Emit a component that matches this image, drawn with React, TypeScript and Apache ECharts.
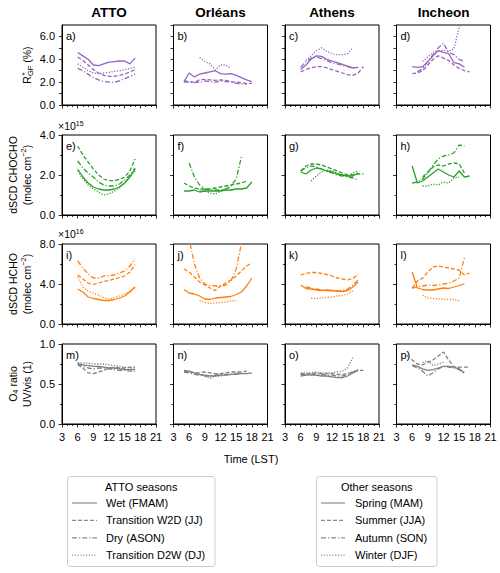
import { useEffect, useRef } from "react";
import * as echarts from "echarts";

const FONT = '"Liberation Sans", Arial, Helvetica, sans-serif';

const sites = ["ATTO", "Orléans", "Athens", "Incheon"];
const letters = ["a", "b", "c", "d", "e", "f", "g", "h", "i", "j", "k", "l", "m", "n", "o", "p"];
const rowColors = ["#9467bd", "#2ca02c", "#ff7f0e", "#7f7f7f"];
const yMax = [7, 4, 8, 1];
const yInterval = [1, 2, 4, 0.5];
const yMinorSplit = [0, 2, 2, 2];
const xTickLabels = [3, 6, 9, 12, 15, 18, 21];

const attoSeasons = ["Wet (FMAM)", "Transition W2D (JJ)", "Dry (ASON)", "Transition D2W (DJ)"];
const otherSeasons = ["Spring (MAM)", "Summer (JJA)", "Autumn (SON)", "Winter (DJF)"];

// ---- Row 1: R*GF (%) ; series order: wet/spring, W2D/summer, dry/autumn, D2W/winter
const rgfAttoStart = [6, 6, 6, 6];
const rgfAtto = [
  [4.6, 4.3, 4.0, 3.5, 3.45, 3.6, 3.75, 3.8, 3.85, 3.85, 3.6, 4.1],
  [4.2, 3.9, 3.5, 3.1, 2.8, 2.6, 2.5, 2.5, 2.6, 2.7, 2.9, 3.1],
  [3.2, 3.0, 2.7, 2.4, 2.2, 2.05, 2.0, 2.0, 2.1, 2.3, 2.5, 2.7],
  [3.6, 3.3, 3.0, 2.8, 2.75, 2.8, 2.85, 2.95, 3.0, 3.1, 3.2, 3.3],
];
const rgfOrleansStart = [5, 5, 5, 8];
const rgfOrleans = [
  [2.05, 2.8, 2.45, 2.7, 2.8, 2.9, 3.0, 2.75, 2.7, 2.75, 2.6, 2.4, 2.2, 2.05],
  [2.1, 2.05, 2.0, 2.2, 2.25, 2.2, 2.15, 2.2, 2.15, 2.05, 2.0, 1.95, 1.9, 1.9],
  [2.0, 2.0, 1.95, 2.0, 2.1, 2.05, 2.0, 2.1, 2.05, 2.0, 1.9, 1.85, 1.8],
  [4.15, 3.8, 3.6, 3.05, 3.5, 3.5, 3.2],
];
const rgfAthensStart = [6, 6, 6, 7];
const rgfAthens = [
  [3.1, 3.5, 4.0, 4.3, 4.25, 4.0, 3.85, 3.7, 3.55, 3.4, 3.25, 3.3],
  [2.9, 3.1, 3.25, 3.35, 3.35, 3.25, 3.1, 2.95, 2.8, 2.65, 2.6, 2.8, 3.35],
  [3.3, 3.8, 4.1, 4.2, 4.05, 3.9, 3.7, 3.6, 3.45, 3.35, 3.2, 3.3],
  [3.9, 4.3, 4.75, 5.0, 4.7, 4.5, 4.4, 4.4, 4.5, 5.0],
];
const rgfIncheonStart = [6, 6, 7, 8];
const rgfIncheon = [
  [3.35, 3.3, 3.35, 3.8, 4.3, 4.75, 4.6, 4.5, 3.7, 3.6, 3.3],
  [2.75, 2.8, 3.0, 3.5, 4.0, 4.3, 4.1, 3.9, 3.5, 3.2, 3.0, 2.9],
  [2.9, 3.2, 3.8, 4.4, 5.0, 5.4, 4.6, 4.4, 4.0, 3.8],
  [3.8, 4.2, 4.6, 4.7, 4.8, 4.7, 4.9, 6.8, 9.5],
];

// ---- Row 2: dSCD CHOCHO (x1e15)
const chAttoStart = [6, 6, 6, 6];
const chAtto = [
  [2.3, 1.9, 1.6, 1.4, 1.3, 1.25, 1.25, 1.3, 1.4, 1.6, 1.9, 2.3],
  [3.45, 3.0, 2.65, 2.3, 2.0, 1.8, 1.72, 1.72, 1.78, 1.9, 2.2, 2.8],
  [2.7, 2.35, 2.1, 1.9, 1.65, 1.5, 1.45, 1.45, 1.55, 1.75, 2.0, 2.35],
  [2.2, 1.8, 1.5, 1.3, 1.15, 1.0, 1.05, 1.2, 1.35, 1.6, 1.9, 2.2],
];
const chOrleansStart = [5, 5, 6, 8];
const chOrleans = [
  [1.2, 1.2, 1.25, 1.15, 1.2, 1.2, 1.2, 1.2, 1.25, 1.25, 1.3, 1.3, 1.35, 1.65],
  [1.6, 1.45, 1.35, 1.3, 1.3, 1.3, 1.35, 1.4, 1.45, 1.5, 1.55, 1.6, 1.7],
  [2.6, 1.9, 1.5, 1.3, 1.25, 1.25, 1.25, 1.3, 1.45, 1.8, 2.9],
  [1.25, 1.2, 1.1, 1.05, 1.2, 1.3, 1.4],
];
const chAthensStart = [6, 6, 6, 8];
const chAthens = [
  [2.15, 2.05, 2.25, 2.35, 2.3, 2.2, 2.15, 2.05, 2.0, 1.95, 1.95, 2.1],
  [2.2, 2.45, 2.55, 2.55, 2.5, 2.4, 2.3, 2.2, 2.1, 2.0, 2.0, 2.05, 2.05],
  [2.2, 2.35, 2.45, 2.4, 2.3, 2.2, 2.1, 2.0, 1.95, 1.9, 1.85, 1.75],
  [1.7, 1.95, 2.15, 2.25, 2.2, 2.1, 2.0, 1.95, 2.1, 2.2],
];
const chIncheonStart = [6, 8, 6, 8];
const chIncheon = [
  [2.45, 1.6, 1.7, 1.9, 2.1, 2.3, 2.15, 2.0, 1.9, 2.2, 1.9, 1.95],
  [1.9, 2.15, 2.4, 2.5, 2.45, 2.55, 2.6, 2.55, 2.1],
  [1.6, 1.65, 1.8, 2.1, 2.5, 2.8, 2.95, 3.0, 3.1, 3.5, 3.45],
  [1.45, 1.45, 1.55, 1.5, 1.65, 1.6, 1.85, 1.9],
];

// ---- Row 3: dSCD HCHO (x1e16)
const hcAttoStart = [6, 6, 6, 6];
const hcAtto = [
  [3.5, 3.2, 2.7, 2.55, 2.45, 2.35, 2.35, 2.45, 2.6, 2.8, 3.2, 3.7],
  [4.9, 4.5, 4.1, 3.95, 4.1, 4.25, 4.35, 4.5, 4.65, 4.8, 5.2, 5.95],
  [6.3, 5.6, 5.0, 4.6, 4.6, 4.8, 4.85, 4.9, 5.1, 5.3, 5.8, 6.5],
  [4.7, 3.7, 3.3, 3.1, 2.9, 2.65, 2.5, 2.65, 2.8, 3.0, 3.3, 3.7],
];
const hcOrleansStart = [5, 5, 5, 8];
const hcOrleans = [
  [3.45, 3.1, 3.0, 2.8, 2.5, 2.45, 2.6, 2.65, 2.7, 2.75, 2.95, 3.2, 3.8, 4.6],
  [5.5, 5.2, 4.7, 4.2, 3.9, 3.6, 3.35, 3.8, 4.1, 4.4, 4.8, 5.3, 5.8, 6.1],
  [11, 8.5, 6.0, 4.6, 4.0, 3.85, 3.8, 3.8, 3.9, 4.3, 5.5, 8.0, 11],
  [2.35, 2.15, 2.05, 2.1, 2.15, 2.2, 2.3, 2.35],
];
const hcAthensStart = [6, 6, 7, 8];
const hcAthens = [
  [3.9, 3.55, 3.5, 3.4, 3.35, 3.4, 3.35, 3.3, 3.25, 3.35, 3.7, 4.2],
  [4.9, 5.05, 5.15, 5.15, 5.05, 4.95, 4.8, 4.6, 4.5, 4.4, 4.55, 4.95],
  [3.7, 3.6, 3.5, 3.4, 3.35, 3.3, 3.3, 3.35, 3.5, 3.9, 4.4],
  [2.6, 2.55, 2.6, 2.65, 2.7, 2.8, 2.85, 3.0, 3.3],
];
const hcIncheonStart = [6, 6, 6, 8];
const hcIncheon = [
  [5.2, 3.6, 3.45, 3.4, 3.4, 3.5, 3.6, 3.55, 3.7, 3.85, 4.0],
  [3.6, 4.3, 4.6, 5.2, 5.7, 5.8, 5.7, 5.6, 5.5, 5.4, 4.9, 5.1],
  [3.6, 3.7, 3.8, 3.9, 3.85, 3.9, 4.0, 4.1, 4.3, 4.6, 6.6],
  [2.9, 2.6, 2.55, 2.5, 2.5, 2.45, 2.45, 2.3],
];

// ---- Row 4: O4 ratio UV/vis
const o4AttoStart = [6, 6, 6, 6];
const o4Atto = [
  [0.75, 0.74, 0.73, 0.72, 0.72, 0.71, 0.7, 0.7, 0.69, 0.68, 0.68, 0.68],
  [0.74, 0.7, 0.64, 0.63, 0.65, 0.67, 0.7, 0.71, 0.7, 0.7, 0.71, 0.71],
  [0.76, 0.72, 0.7, 0.69, 0.7, 0.7, 0.69, 0.68, 0.67, 0.67, 0.66, 0.66],
  [0.77, 0.76, 0.76, 0.75, 0.75, 0.75, 0.74, 0.73, 0.72, 0.71, 0.7, 0.7],
];
const o4OrleansStart = [5, 5, 5, 8];
const o4Orleans = [
  [0.67, 0.66, 0.64, 0.62, 0.61, 0.6, 0.6, 0.61, 0.61, 0.62, 0.62, 0.63, 0.63, 0.64],
  [0.66, 0.65, 0.64, 0.64, 0.65, 0.64, 0.63, 0.63, 0.64, 0.65, 0.65, 0.65, 0.66],
  [0.65, 0.64, 0.62, 0.61, 0.6, 0.6, 0.61, 0.62, 0.62, 0.62, 0.63, 0.64],
  [0.62, 0.6, 0.57, 0.6, 0.6, 0.61, 0.62],
];
const o4AthensStart = [6, 6, 6, 6];
const o4Athens = [
  [0.6, 0.61, 0.61, 0.61, 0.6, 0.6, 0.59, 0.58, 0.58, 0.6, 0.64, 0.67],
  [0.63, 0.63, 0.63, 0.64, 0.63, 0.63, 0.63, 0.62, 0.62, 0.63, 0.65, 0.67, 0.67],
  [0.62, 0.62, 0.62, 0.62, 0.62, 0.61, 0.61, 0.6, 0.6, 0.62, 0.65, 0.68],
  [0.64, 0.64, 0.64, 0.65, 0.64, 0.64, 0.64, 0.65, 0.66, 0.7, 0.83],
];
const o4IncheonStart = [6, 5, 6, 8];
const o4Incheon = [
  [0.74, 0.72, 0.69, 0.67, 0.68, 0.7, 0.72, 0.72, 0.71, 0.69, 0.64],
  [0.86, 0.8, 0.75, 0.74, 0.77, 0.8, 0.85, 0.9, 0.8, 0.71, 0.71, 0.71, 0.71],
  [0.73, 0.7, 0.66, 0.6, 0.64, 0.69, 0.72, 0.71, 0.7, 0.68, 0.63],
  [0.77, 0.79, 0.73, 0.75, 0.77],
];

const panelData = [
  [rgfAtto, rgfOrleans, rgfAthens, rgfIncheon],
  [chAtto, chOrleans, chAthens, chIncheon],
  [hcAtto, hcOrleans, hcAthens, hcIncheon],
  [o4Atto, o4Orleans, o4Athens, o4Incheon],
];
const panelStarts = [
  [rgfAttoStart, rgfOrleansStart, rgfAthensStart, rgfIncheonStart],
  [chAttoStart, chOrleansStart, chAthensStart, chIncheonStart],
  [hcAttoStart, hcOrleansStart, hcAthensStart, hcIncheonStart],
  [o4AttoStart, o4OrleansStart, o4AthensStart, o4IncheonStart],
];

// layout (pixels)
const gridLeft = [62, 173.5, 285, 396.5];
const gridTop = [25, 135, 244, 344];
const GW = 94;
const GH = 80;
const dashTypes: any[] = ["solid", [4, 2], [5, 2, 1.2, 2], [1.2, 1.6]];

function buildOption() {
  const grid: any[] = [];
  const xAxis: any[] = [];
  const yAxis: any[] = [];
  const series: any[] = [];
  const graphic: any[] = [];

  for (let r = 0; r < 4; r++) {
    for (let c = 0; c < 4; c++) {
      const gi = r * 4 + c;
      grid.push({
        left: gridLeft[c],
        top: gridTop[r],
        width: GW,
        height: GH,
        show: true,
        borderColor: "#000",
        borderWidth: 1,
        backgroundColor: "transparent",
      });
      xAxis.push({
        type: "value",
        gridIndex: gi,
        min: 3,
        max: 21,
        interval: 3,
        axisLine: { show: true, onZero: false, lineStyle: { color: "#000", width: 1 } },
        axisTick: { show: true, length: 3.5, lineStyle: { color: "#000", width: 0.8 } },
        minorTick: { show: true, splitNumber: 3, length: 2, lineStyle: { color: "#000", width: 0.8 } },
        splitLine: { show: false },
        axisLabel: {
          show: r === 3,
          fontSize: 11,
          fontFamily: FONT,
          color: "#000",
          margin: 7,
          formatter: (v: number) => (xTickLabels.indexOf(v) >= 0 ? String(v) : ""),
        },
      });
      yAxis.push({
        type: "value",
        gridIndex: gi,
        min: 0,
        max: yMax[r],
        interval: yInterval[r],
        axisLine: { show: true, onZero: false, lineStyle: { color: "#000", width: 1 } },
        axisTick: { show: true, length: r === 0 ? 3 : 3.5, lineStyle: { color: "#000", width: 0.8 } },
        minorTick: {
          show: yMinorSplit[r] > 0,
          splitNumber: yMinorSplit[r] || 2,
          length: 2,
          lineStyle: { color: "#000", width: 0.8 },
        },
        splitLine: { show: false },
        axisLabel: {
          show: c === 0,
          fontSize: 11,
          fontFamily: FONT,
          color: "#000",
          margin: 7,
          showMaxLabel: r !== 0,
          formatter: (v: number) => (r === 0 && Math.round(v) % 2 !== 0 ? "" : v.toFixed(1)),
        },
      });
      const sets = panelData[r][c];
      const starts = panelStarts[r][c];
      for (let s = 0; s < 4; s++) {
        series.push({
          type: "line",
          xAxisIndex: gi,
          yAxisIndex: gi,
          showSymbol: false,
          symbol: "none",
          clip: true,
          data: sets[s].map((v: number, i: number) => [starts[s] + i, v]),
          lineStyle: { color: rowColors[r], width: 1.3, type: dashTypes[s] },
        });
      }
      graphic.push({
        type: "text",
        x: gridLeft[c] + 4,
        y: gridTop[r] + 11,
        style: {
          text: letters[gi] + ")",
          fontSize: 11,
          fontFamily: FONT,
          fill: "#000",
          verticalAlign: "middle",
        },
      });
    }
  }

  // column titles
  for (let c = 0; c < 4; c++) {
    graphic.push({
      type: "text",
      x: gridLeft[c] + GW / 2,
      y: 12,
      style: {
        text: sites[c],
        fontSize: 13.5,
        fontWeight: "bold",
        fontFamily: FONT,
        fill: "#000",
        align: "center",
        verticalAlign: "middle",
      },
    });
  }

  const richBase = {
    m: { fontSize: 10.5, fontFamily: FONT, fill: "#000", lineHeight: 14, verticalAlign: "middle" },
    sup: { fontSize: 7.5, fontFamily: FONT, fill: "#000", lineHeight: 8, verticalAlign: "top" },
    sub: { fontSize: 7.5, fontFamily: FONT, fill: "#000", lineHeight: 7, verticalAlign: "bottom" },
  };

  // y-axis labels (rotated)
  const ylab = (x: number, y: number, text: string, extra: any[] = []) => ({
    type: "group",
    x,
    y,
    rotation: Math.PI / 2,
    children: [
      {
        type: "text",
        x: 0,
        y: 0,
        style: {
          text,
          rich: richBase,
          align: "center",
          verticalAlign: "middle",
          fontFamily: FONT,
          fontSize: 10.5,
          fill: "#000",
        },
      },
      ...extra,
    ],
  });
  graphic.push(
    ylab(27, gridTop[0] + GH / 2, "{m|R}{sub|GF}{m| (%)}", [
      {
        type: "text",
        x: -10.5,
        y: -3,
        style: { text: "*", fontSize: 8, fontFamily: FONT, fill: "#000", align: "left", verticalAlign: "middle" },
      },
    ])
  );
  graphic.push(ylab(19.5, gridTop[1] + GH / 2, "{m|dSCD CHOCHO}\n{m|(molec cm}{sup|−2}{m|)}"));
  graphic.push(ylab(19.5, gridTop[2] + GH / 2, "{m|dSCD HCHO}\n{m|(molec cm}{sup|−2}{m|)}"));
  graphic.push(ylab(19.5, gridTop[3] + GH / 2, "{m|O}{sub|4}{m| ratio}\n{m|UV/vis (1)}"));

  // offset texts
  const offRich = {
    m: { fontSize: 10.5, fontFamily: FONT, fill: "#000", lineHeight: 12, verticalAlign: "middle" },
    sup: { fontSize: 7, fontFamily: FONT, fill: "#000", lineHeight: 7, verticalAlign: "top" },
  };
  graphic.push({
    type: "text",
    x: 58,
    y: 126,
    style: { text: "{m|×10}{sup|15}", rich: offRich, verticalAlign: "middle" },
  });
  graphic.push({
    type: "text",
    x: 58,
    y: 234,
    style: { text: "{m|×10}{sup|16}", rich: offRich, verticalAlign: "middle" },
  });

  // x-axis title
  graphic.push({
    type: "text",
    x: 251,
    y: 459,
    style: {
      text: "Time (LST)",
      fontSize: 11,
      fontFamily: FONT,
      fill: "#000",
      align: "center",
      verticalAlign: "middle",
    },
  });

  // legends
  const legend = (bx: number, bw: number, title: string, labels: string[], lx1: number, lx2: number, tx: number) => {
    const by = 476.5;
    const bh = 90;
    const els: any[] = [
      {
        type: "rect",
        shape: { x: bx, y: by, width: bw, height: bh, r: 3 },
        style: { fill: "#fff", stroke: "#cccccc", lineWidth: 1 },
      },
      {
        type: "text",
        x: bx + bw / 2,
        y: 487,
        style: { text: title, fontSize: 11, fontFamily: FONT, fill: "#000", align: "center", verticalAlign: "middle" },
      },
    ];
    labels.forEach((lab, i) => {
      const yy = 503 + i * 17.4;
      els.push({
        type: "line",
        shape: { x1: lx1, y1: yy, x2: lx2, y2: yy },
        style: {
          stroke: "#8c8c8c",
          lineWidth: 1.2,
          lineDash: i === 0 ? null : dashTypes[i],
        },
      });
      els.push({
        type: "text",
        x: tx,
        y: yy,
        style: { text: lab, fontSize: 11, fontFamily: FONT, fill: "#000", align: "left", verticalAlign: "middle" },
      });
    });
    return els;
  };
  graphic.push(...legend(67.5, 147.5, "ATTO seasons", attoSeasons, 72, 97, 106));
  graphic.push(...legend(316.5, 120.5, "Other seasons", otherSeasons, 321, 345, 355));

  return {
    animation: false,
    backgroundColor: "#ffffff",
    grid,
    xAxis,
    yAxis,
    series,
    graphic,
  };
}

export default function App() {
  const ref = useRef<HTMLDivElement>(null);
  useEffect(() => {
    document.body.style.margin = "0";
    if (!ref.current) return;
    const chart = echarts.init(ref.current, null, { renderer: "svg" });
    chart.setOption(buildOption() as any);
    return () => chart.dispose();
  }, []);
  return <div ref={ref} style={{ width: 500, height: 573 }} />;
}
